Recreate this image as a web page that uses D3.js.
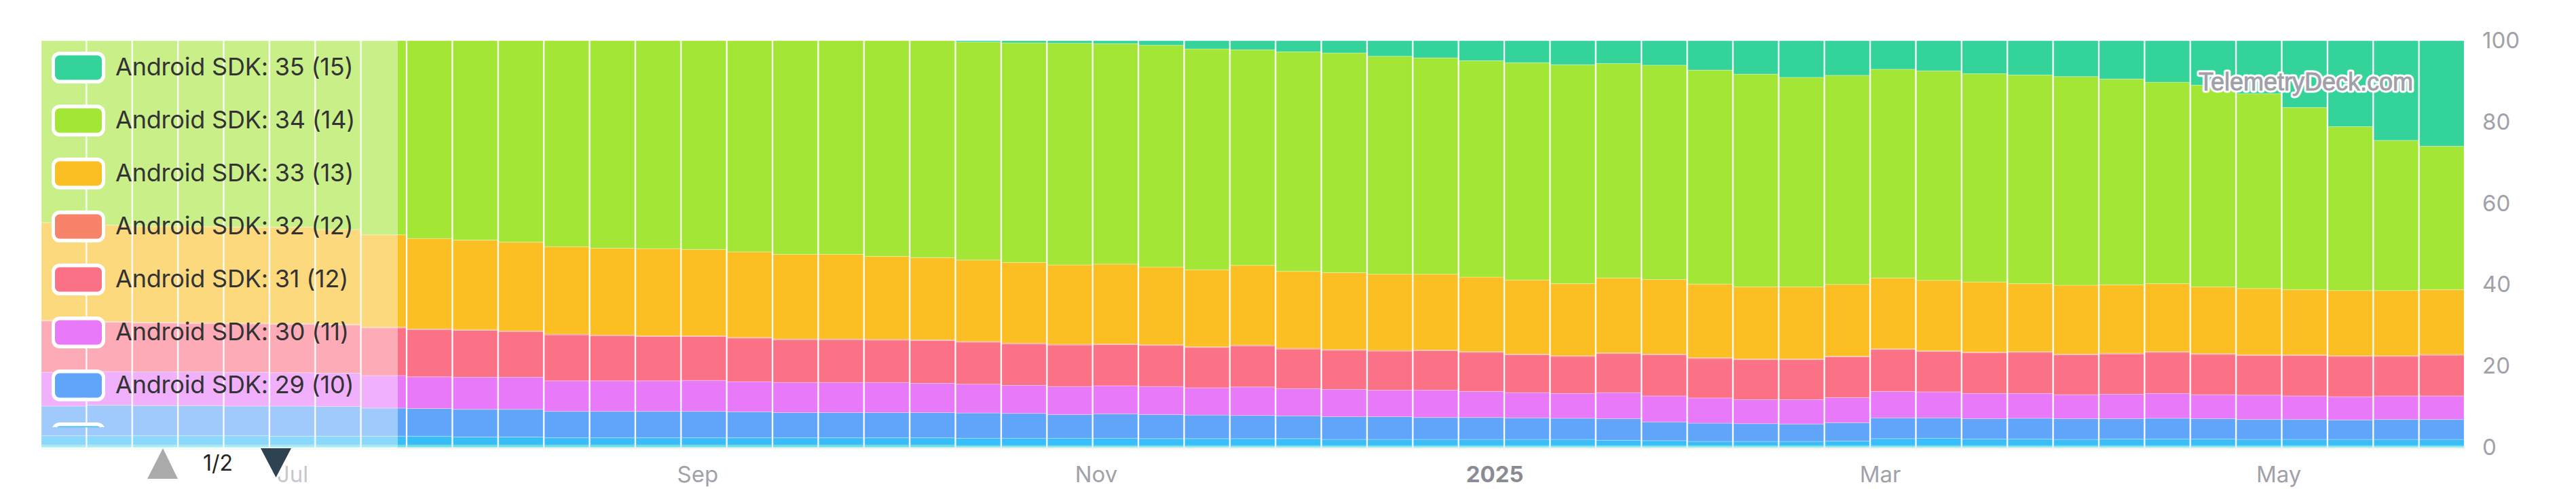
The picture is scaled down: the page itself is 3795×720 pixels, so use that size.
<!DOCTYPE html>
<html>
<head>
<meta charset="utf-8">
<script src="https://cdn.jsdelivr.net/npm/d3@7/dist/d3.min.js"></script>
<style>
  html, body { margin: 0; padding: 0; background: #fff; }
  svg { display: block; font-family: Inter, "Noto Sans", sans-serif; }
</style>
</head>
<body>
<div id="chart"></div>
<script>
// weekly share of Android SDK levels, in percent of sessions
var firstWeek = "2024-05-27";

var sdk35 = [0, 0, 0, 0, 0, 0, 0, 0, 0, 0, 0, 0, 0, 0, 0, 0, 0, 0, 0, 0,
  0.3, 0.5, 0.6, 0.7, 1.1, 2.0, 2.2, 2.7, 3.0, 3.8, 4.2, 4.9, 5.4, 5.9, 5.6, 6.0, 7.2, 8.2, 9.0, 8.5,
  7.0, 7.4, 8.1, 8.4, 8.8, 9.4, 10.2, 10.9, 13.0, 16.4, 21.1, 24.5, 25.9];
var sdk34 = [44.7, 45.3, 45.6, 45.7, 45.8, 45.8, 46.4, 47.7, 48.6, 49.0,
  49.5, 50.6, 51.0, 51.1, 51.3, 51.9, 52.5, 52.5, 53.0, 53.3,
  53.6, 54.0, 54.5, 54.2, 54.5, 54.3, 53.0, 54.0, 54.0, 53.6,
  53.2, 53.2, 53.4, 53.8, 52.7, 52.7, 52.6, 52.3, 51.5, 51.4,
  51.3, 51.5, 51.2, 51.3, 51.3, 50.6, 49.5, 49.6, 47.9, 44.8,
  40.3, 36.9, 35.3];
var sdk33 = [24.0, 23.7, 23.6, 23.6, 23.6, 23.7, 23.3, 22.7, 22.2, 22.0,
  21.8, 21.5, 21.3, 21.4, 21.2, 21.0, 20.8, 20.8, 20.4, 20.2,
  20.0, 19.8, 19.5, 19.6, 19.1, 18.9, 19.6, 18.9, 18.9, 18.7,
  18.6, 18.3, 18.2, 17.7, 18.4, 18.3, 18.1, 17.7, 17.7, 17.6,
  17.4, 17.3, 17.2, 16.7, 16.9, 16.8, 16.7, 16.4, 16.3, 16.0,
  16.0, 16.0, 15.9];
var sdk32 = [0.2, 0.2, 0.2, 0.2, 0.2, 0.2, 0.2, 0.2, 0.2, 0.2,
  0.2, 0.2, 0.2, 0.2, 0.2, 0.2, 0.2, 0.2, 0.2, 0.2,
  0.2, 0.2, 0.2, 0.2, 0.2, 0.2, 0.2, 0.2, 0.2, 0.2,
  0.2, 0.2, 0.2, 0.2, 0.2, 0.2, 0.2, 0.2, 0.2, 0.2,
  0.2, 0.2, 0.2, 0.2, 0.2, 0.2, 0.2, 0.2, 0.2, 0.2,
  0.2, 0.2, 0.2];
var sdk31 = [12.6, 12.1, 12.0, 11.9, 11.9, 11.9, 11.8, 11.7, 11.6, 11.5,
  11.2, 11.3, 11.1, 10.9, 10.8, 10.7, 10.5, 10.5, 10.4, 10.5,
  10.3, 10.2, 10.2, 10.1, 10.1, 9.9, 10.1, 9.7, 9.6, 9.6,
  9.7, 9.6, 9.3, 9.1, 9.6, 10.1, 9.7, 9.8, 9.8, 10.0,
  10.3, 9.9, 10.0, 10.1, 9.8, 9.9, 10.1, 9.9, 9.7, 9.9,
  9.9, 9.7, 10.0];
var sdk30 = [8.3, 8.3, 8.3, 8.3, 8.3, 8.2, 8.2, 8.0, 7.8, 7.9,
  7.9, 7.5, 7.5, 7.5, 7.6, 7.4, 7.4, 7.4, 7.4, 7.2,
  7.1, 6.9, 6.9, 6.9, 6.9, 6.7, 7.0, 6.7, 6.7, 6.5,
  6.7, 6.4, 6.2, 6.1, 6.4, 6.4, 6.2, 5.9, 6.0, 6.2,
  6.5, 6.4, 6.2, 6.1, 5.9, 6.0, 6.1, 5.9, 6.0, 5.8,
  5.7, 5.8, 5.8];
var sdk29 = [7.3, 7.5, 7.4, 7.4, 7.3, 7.4, 7.3, 6.9, 6.8, 6.8,
  6.8, 6.5, 6.5, 6.5, 6.5, 6.4, 6.2, 6.2, 6.2, 6.2,
  6.2, 6.1, 5.8, 6.0, 5.9, 5.8, 5.7, 5.6, 5.6, 5.6,
  5.4, 5.4, 5.3, 5.2, 5.3, 4.6, 4.5, 4.4, 4.3, 4.5,
  5.1, 5.0, 5.0, 5.1, 5.1, 5.0, 5.1, 5.0, 4.9, 4.9,
  4.8, 4.9, 4.9];
var sdk28 = [2.3, 2.3, 2.3, 2.3, 2.3, 2.2, 2.2, 2.2, 2.2, 2.0,
  2.0, 1.8, 1.8, 1.8, 1.8, 1.8, 1.8, 1.8, 1.8, 1.8,
  1.8, 1.8, 1.8, 1.8, 1.7, 1.7, 1.7, 1.7, 1.5, 1.5,
  1.5, 1.5, 1.5, 1.5, 1.3, 1.2, 1.0, 1.0, 1.0, 1.1,
  1.7, 1.8, 1.6, 1.6, 1.5, 1.6, 1.6, 1.6, 1.5, 1.5,
  1.5, 1.5, 1.5];
var sdk27 = [0.3, 0.3, 0.3, 0.3, 0.3, 0.3, 0.3, 0.3, 0.3, 0.3,
  0.3, 0.3, 0.3, 0.3, 0.3, 0.3, 0.3, 0.3, 0.3, 0.3,
  0.25, 0.25, 0.25, 0.25, 0.25, 0.25, 0.25, 0.25, 0.25, 0.25,
  0.25, 0.25, 0.25, 0.25, 0.25, 0.25, 0.25, 0.25, 0.25, 0.25,
  0.25, 0.25, 0.25, 0.25, 0.25, 0.25, 0.25, 0.25, 0.25, 0.25,
  0.25, 0.25, 0.25];
var sdk26 = [0.2, 0.2, 0.2, 0.2, 0.2, 0.2, 0.2, 0.2, 0.2, 0.2,
  0.2, 0.2, 0.2, 0.2, 0.2, 0.2, 0.2, 0.2, 0.2, 0.2,
  0.15, 0.15, 0.15, 0.15, 0.15, 0.15, 0.15, 0.15, 0.15, 0.15,
  0.15, 0.15, 0.15, 0.15, 0.15, 0.15, 0.15, 0.15, 0.15, 0.15,
  0.15, 0.15, 0.15, 0.15, 0.15, 0.15, 0.15, 0.15, 0.15, 0.15,
  0.15, 0.15, 0.15];
var sdk25 = [0.1, 0.1, 0.1, 0.1, 0.1, 0.1, 0.1, 0.1, 0.1, 0.1,
  0.1, 0.1, 0.1, 0.1, 0.1, 0.1, 0.1, 0.1, 0.1, 0.1,
  0.1, 0.1, 0.1, 0.1, 0.1, 0.1, 0.1, 0.1, 0.1, 0.1,
  0.1, 0.1, 0.1, 0.1, 0.1, 0.1, 0.1, 0.1, 0.1, 0.1,
  0.1, 0.1, 0.1, 0.1, 0.1, 0.1, 0.1, 0.1, 0.1, 0.1,
  0.1, 0.1, 0.1];

// legend, first page
var legendLabels = ["Android SDK: 35 (15)", "Android SDK: 34 (14)", "Android SDK: 33 (13)", "Android SDK: 32 (12)",
  "Android SDK: 31 (12)", "Android SDK: 30 (11)", "Android SDK: 29 (10)", "Android SDK: 28 (9)"];
var legendKeys = ["35", "34", "33", "32", "31", "30", "29", "28"];

var yTicks = [0, 20, 40, 60, 80, 100];
var xTicks = ["2024-07-01", "2024-09-01", "2024-11-01", "2025-01-01", "2025-03-01", "2025-05-01"];
var xTickLabels = ["Jul", "Sep", "Nov", "2025", "Mar", "May"];

var seriesByKey = {"35": sdk35, "34": sdk34, "33": sdk33, "32": sdk32, "31": sdk31, "30": sdk30,
  "29": sdk29, "28": sdk28, "27": sdk27, "26": sdk26, "25": sdk25};
var colors = {"35": "#34d399", "34": "#a3e635", "33": "#fbbf24", "32": "#f8836b", "31": "#fb7185",
  "30": "#e879f9", "29": "#60a5fa", "28": "#38bdf8", "27": "#22d3ee", "26": "#2dd4bf", "25": "#34d399"};
// stack order, bottom first
var stackKeys = ["25", "26", "27", "28", "29", "30", "31", "32", "33", "34", "35"];

var W = 3795, H = 720;
var margin = {top: 60, right: 164, bottom: 61, left: 60};
var DAY = 864e5;

var weeks = sdk34.map(function(d, i) {
  var row = {date: new Date(Date.parse(firstWeek) + i * 7 * DAY)};
  stackKeys.forEach(function(k) { row[k] = seriesByKey[k][i]; });
  return row;
});

var x = d3.scaleUtc()
    .domain([new Date(+weeks[0].date - 3.5 * DAY), new Date(+weeks[weeks.length - 1].date + 3.5 * DAY)])
    .range([margin.left, W - margin.right]);
var y = d3.scaleLinear()
    .domain([0, 100])
    .range([H - margin.bottom, margin.top]);

var stacked = d3.stack()
    .keys(stackKeys)
    .offset(d3.stackOffsetExpand)(weeks);

var svg = d3.select("#chart").append("svg")
    .attr("width", W)
    .attr("height", H);

// bars
var layers = svg.append("g").attr("id", "bars")
  .selectAll("g")
  .data(stacked)
  .enter().append("g")
    .attr("fill", function(d) { return colors[d.key]; });

layers.selectAll("rect")
  .data(function(d) { return d; })
  .enter().append("rect")
    .attr("x", function(d) { return x(new Date(+d.data.date - 3.5 * DAY)) + 1; })
    .attr("width", function(d) { return x(new Date(+d.data.date + 3.5 * DAY)) - x(new Date(+d.data.date - 3.5 * DAY)) - 2; })
    .attr("y", function(d) { return y(d[1] * 100); })
    .attr("height", function(d) { return y(d[0] * 100) - y(d[1] * 100); })
    .attr("stroke", "#fff")
    .attr("stroke-opacity", 0.3)
    .attr("stroke-width", 1);

// baseline
svg.append("line")
    .attr("x1", margin.left).attr("x2", W - margin.right)
    .attr("y1", y(0) + 1.5).attr("y2", y(0) + 1.5)
    .attr("stroke", "#f1f1f1")
    .attr("stroke-width", 2);

// axes
var yAxis = svg.append("g")
    .attr("transform", "translate(" + (W - margin.right) + ",0)")
    .call(d3.axisRight(y).tickValues(yTicks).tickSize(0).tickPadding(26));
yAxis.select(".domain").remove();
yAxis.selectAll("text")
    .attr("font-family", "Inter, sans-serif")
    .attr("font-size", 33)
    .attr("fill", "#a1a1aa");

var xAxis = svg.append("g")
    .attr("transform", "translate(0," + y(0) + ")")
    .call(d3.axisBottom(x)
      .tickValues(xTicks.map(function(d) { return new Date(d); }))
      .tickFormat(function(d, i) { return xTickLabels[i]; })
      .tickSize(0)
      .tickPadding(28));
xAxis.select(".domain").remove();
xAxis.selectAll("text")
    .attr("font-family", "Inter, sans-serif")
    .attr("font-size", 33)
    .attr("fill", function(d, i) { return xTickLabels[i] == "2025" ? "#8b8b93" : "#a1a1aa"; })
    .attr("font-weight", function(d, i) { return xTickLabels[i] == "2025" ? 700 : 400; });

// watermark
var mark = svg.append("g").attr("font-family", "'Liberation Sans', Arial, sans-serif")
    .attr("font-size", 36)
    .attr("text-anchor", "end");
mark.append("text")
    .attr("x", 3555).attr("y", 133)
    .attr("fill", "#fff")
    .attr("stroke", "#fff")
    .attr("stroke-width", 7)
    .attr("stroke-linejoin", "round")
    .text("TelemetryDeck.com");
mark.append("text")
    .attr("x", 3555).attr("y", 133)
    .attr("fill", "#a1a1aa")
    .attr("stroke", "#9d9da6")
    .attr("stroke-width", 0.8)
    .text("TelemetryDeck.com");

// legend panel over the left part of the chart
var legendW = 526;
svg.append("rect")
    .attr("x", margin.left).attr("y", margin.top)
    .attr("width", legendW).attr("height", H - margin.top)
    .attr("fill", "#fff")
    .attr("fill-opacity", 0.41);

svg.append("clipPath").attr("id", "legendClip")
  .append("rect")
    .attr("x", margin.left).attr("y", margin.top)
    .attr("width", legendW).attr("height", 569);

var items = svg.append("g")
    .attr("clip-path", "url(#legendClip)")
  .selectAll("g")
  .data(legendKeys)
  .enter().append("g")
    .attr("transform", function(d, i) { return "translate(0," + (99.5 + i * 78) + ")"; });

items.append("rect")
    .attr("x", 76).attr("y", -23.5)
    .attr("width", 79).attr("height", 47)
    .attr("rx", 12)
    .attr("fill", "#fff");
items.append("rect")
    .attr("x", 81).attr("y", -18)
    .attr("width", 69).attr("height", 36)
    .attr("rx", 7)
    .attr("fill", function(d) { return colors[d]; });
items.append("text")
    .attr("x", 170).attr("y", 11)
    .attr("font-size", 36)
    .attr("letter-spacing", -0.2)
    .attr("fill", "#333")
    .text(function(d, i) { return legendLabels[i]; });

// pager
svg.append("path")
    .attr("d", "M217,705L240,660L262,705Z")
    .attr("fill", "#aaa");
svg.append("text")
    .attr("x", 299).attr("y", 693)
    .attr("font-size", 32)
    .attr("fill", "#222")
    .text("1/2");
svg.append("path")
    .attr("d", "M384,660L429,660L406.5,703Z")
    .attr("fill", "#2f4252");
</script>
</body>
</html>
